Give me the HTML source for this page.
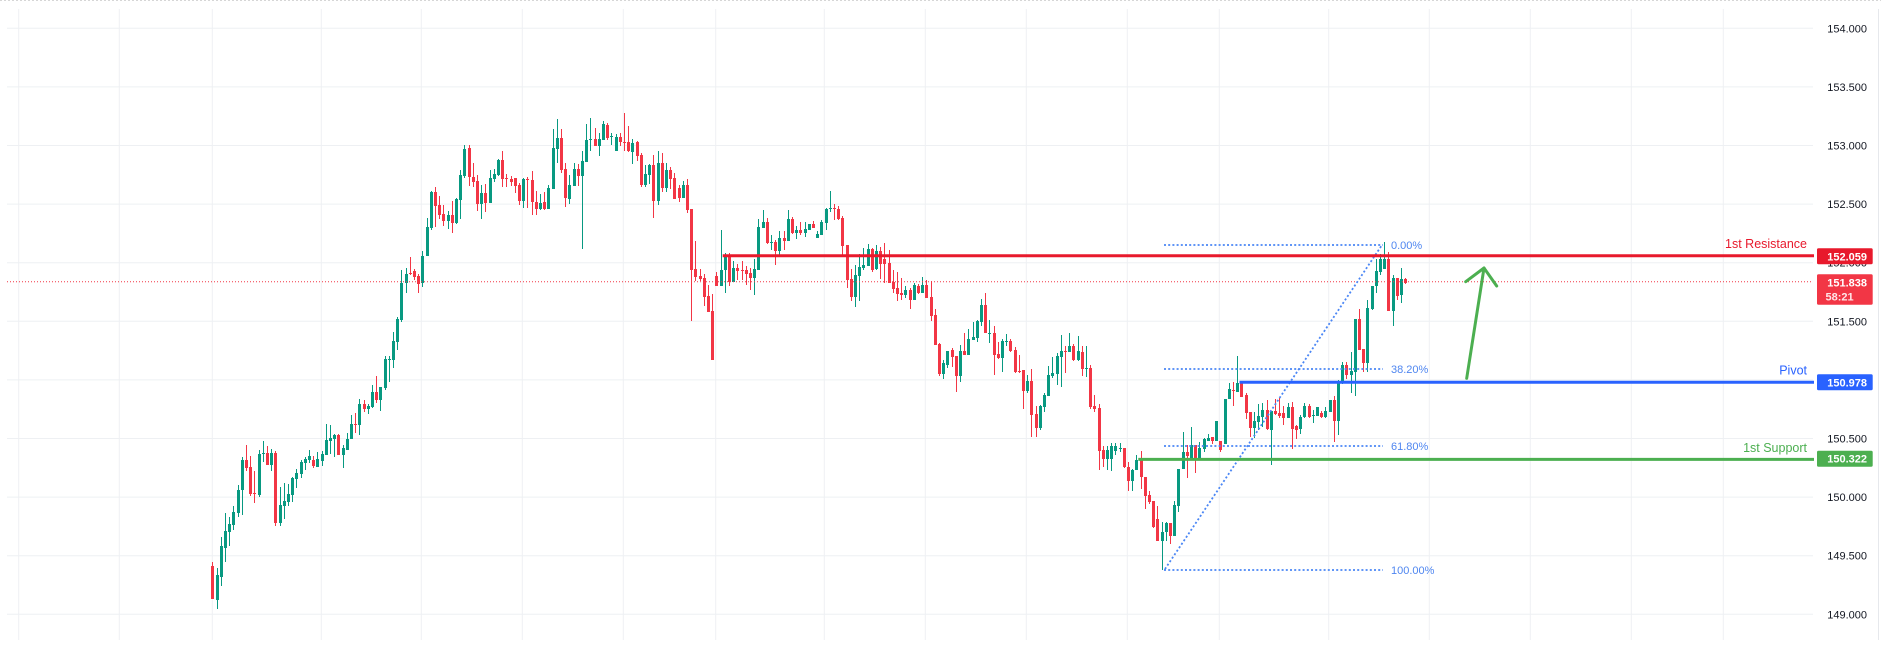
<!DOCTYPE html>
<html><head><meta charset="utf-8">
<style>
html,body{margin:0;padding:0;background:#fff;width:1881px;height:647px;overflow:hidden}
svg{display:block}
text{font-family:"Liberation Sans",Arial,sans-serif}
</style></head>
<body>
<svg id="s" width="1881" height="647" viewBox="0 0 1881 647" xmlns="http://www.w3.org/2000/svg">
<rect x="0" y="0" width="1881" height="647" fill="#ffffff"/>
<line x1="0" y1="0.5" x2="1881" y2="0.5" stroke="#d6d6d6" stroke-dasharray="2 2"/>
<g stroke="#eef0f3" stroke-width="1">
<line x1="18.7" y1="9" x2="18.7" y2="640"/>
<line x1="119.3" y1="9" x2="119.3" y2="640"/>
<line x1="212.3" y1="9" x2="212.3" y2="640"/>
<line x1="321.3" y1="9" x2="321.3" y2="640"/>
<line x1="421.3" y1="9" x2="421.3" y2="640"/>
<line x1="522.3" y1="9" x2="522.3" y2="640"/>
<line x1="623.3" y1="9" x2="623.3" y2="640"/>
<line x1="715.7" y1="9" x2="715.7" y2="640"/>
<line x1="824.3" y1="9" x2="824.3" y2="640"/>
<line x1="925.3" y1="9" x2="925.3" y2="640"/>
<line x1="1026.3" y1="9" x2="1026.3" y2="640"/>
<line x1="1127.3" y1="9" x2="1127.3" y2="640"/>
<line x1="1219.3" y1="9" x2="1219.3" y2="640"/>
<line x1="1328.7" y1="9" x2="1328.7" y2="640"/>
<line x1="1429.3" y1="9" x2="1429.3" y2="640"/>
<line x1="1530.3" y1="9" x2="1530.3" y2="640"/>
<line x1="1631.3" y1="9" x2="1631.3" y2="640"/>
<line x1="1723.3" y1="9" x2="1723.3" y2="640"/>
<line x1="7" y1="28.3" x2="1813" y2="28.3"/>
<line x1="7" y1="86.9" x2="1813" y2="86.9"/>
<line x1="7" y1="145.5" x2="1813" y2="145.5"/>
<line x1="7" y1="204.1" x2="1813" y2="204.1"/>
<line x1="7" y1="262.7" x2="1813" y2="262.7"/>
<line x1="7" y1="321.3" x2="1813" y2="321.3"/>
<line x1="7" y1="379.9" x2="1813" y2="379.9"/>
<line x1="7" y1="438.5" x2="1813" y2="438.5"/>
<line x1="7" y1="497.1" x2="1813" y2="497.1"/>
<line x1="7" y1="555.7" x2="1813" y2="555.7"/>
<line x1="7" y1="614.3" x2="1813" y2="614.3"/>
</g>
<line x1="1878.5" y1="9" x2="1878.5" y2="640" stroke="#e6e8ec"/>

<path id="gw" fill="#089981"/>
<path id="rw" fill="#f23645"/>
<path id="gb" fill="#089981"/>
<path id="rb" fill="#f23645"/>

<line x1="7" y1="281.7" x2="1813" y2="281.7" stroke="#f23645" stroke-width="1" stroke-dasharray="1 2"/>

<g stroke="#4a86f5" stroke-width="1.8" stroke-dasharray="2 2.2" fill="none">
<line x1="1164" y1="245" x2="1383" y2="245"/>
<line x1="1164" y1="369" x2="1383" y2="369"/>
<line x1="1164" y1="446" x2="1383" y2="446"/>
<line x1="1164" y1="570" x2="1383" y2="570"/>
<line x1="1165" y1="569" x2="1382" y2="245"/>
</g>
<g fill="#4f86f0" font-size="11">
<text x="1391" y="249">0.00%</text>
<text x="1391" y="373">38.20%</text>
<text x="1391" y="450">61.80%</text>
<text x="1391" y="574">100.00%</text>
</g>

<line x1="722.7" y1="255.8" x2="1814" y2="255.8" stroke="#e8192c" stroke-width="3"/>
<line x1="1239.5" y1="382.3" x2="1814" y2="382.3" stroke="#2962ff" stroke-width="3"/>
<line x1="1138.3" y1="459.4" x2="1814" y2="459.4" stroke="#4caf50" stroke-width="3"/>

<g stroke="#4caf50" stroke-width="3" fill="none" stroke-linecap="round" stroke-linejoin="round">
<line x1="1466.7" y1="378.3" x2="1484" y2="268"/>
<polyline points="1465.7,281.7 1484,268 1496.7,286"/>
</g>

<g font-size="12.5" text-anchor="end">
<text x="1807" y="247.8" fill="#e8192c">1st Resistance</text>
<text x="1807" y="374.5" fill="#2962ff">Pivot</text>
<text x="1807" y="451.8" fill="#4caf50">1st Support</text>
</g>

<g font-size="11" fill="#131722" text-anchor="end">
<text x="1867" y="32.3">154.000</text>
<text x="1867" y="90.9">153.500</text>
<text x="1867" y="149.5">153.000</text>
<text x="1867" y="208.1">152.500</text>
<text x="1867" y="266.7">152.000</text>
<text x="1867" y="325.3">151.500</text>
<text x="1867" y="383.9">151.000</text>
<text x="1867" y="442.5">150.500</text>
<text x="1867" y="501.1">150.000</text>
<text x="1867" y="559.7">149.500</text>
<text x="1867" y="618.3">149.000</text>
</g>
<rect x="1817" y="248.3" width="55.7" height="16" rx="1.5" fill="#e8192c"/>
<rect x="1817" y="274.3" width="55.7" height="30.4" rx="1.5" fill="#f23645"/>
<rect x="1817" y="374.3" width="55.7" height="16" rx="1.5" fill="#2962ff"/>
<rect x="1817" y="450.7" width="55.7" height="16" rx="1.5" fill="#4caf50"/>
<g font-size="11" fill="#ffffff" font-weight="bold" text-anchor="end">
<text x="1867" y="260.3">152.059</text>
<text x="1867" y="286.3">151.838</text>
<text x="1867" y="386.3">150.978</text>
<text x="1867" y="462.7">150.322</text>
</g>
<text x="1825.5" y="300.7" font-size="11" font-weight="bold" fill="#ffe6e8">58:21</text>
</svg>
<script>
var D=[
[0,566,599,562,599],[1,575,600,568,609],[1,546,577,537,586],[1,531,548,513,562],[1,524,532,517,546],
[1,512,525,506,530],[1,490,513,485,517],[1,460,490,457,515],[0,460,468,445,471],[0,467,494,456,496],
[0,493,494,471,503],[1,454,495,450,497],[1,453,454,441,462],[0,453,465,446,465],[1,453,465,449,471],
[0,453,523,451,526],[1,505,523,487,526],[1,501,506,483,519],[1,494,502,484,506],[1,478,495,477,502],
[1,473,479,469,488],[1,462,474,460,478],[1,459,463,457,470],[1,456,460,450,463],[0,460,466,456,468],
[1,459,467,452,467],[1,454,461,451,466],[1,440,455,424,455],[1,438,441,425,454],[1,435,439,434,457],
[0,435,455,434,455],[1,448,455,445,468],[1,439,450,433,450],[1,424,439,415,439],[0,424,425,413,433],
[1,404,425,399,435],[0,404,409,400,412],[1,406,409,404,414],[1,392,407,385,408],[0,392,400,376,403],
[1,387,400,387,411],[1,359,388,356,390],[1,359,360,356,382],[1,341,360,332,368],[1,319,342,317,350],
[1,283,320,270,322],[1,274,283,268,293],[0,273,274,257,275],[0,271,277,269,280],[0,276,284,274,293],
[1,256,283,251,287],[1,227,256,218,256],[1,192,228,191,230],[0,192,206,187,227],[0,205,215,196,219],
[0,214,221,205,226],[1,215,221,211,229],[0,215,223,201,233],[1,199,223,198,224],[1,175,200,170,219],
[1,149,176,145,178],[0,148,177,145,186],[0,177,182,163,187],[0,181,204,175,211],[1,193,204,185,219],
[0,193,203,184,212],[1,178,203,170,203],[1,174,179,169,182],[1,160,175,159,176],[0,160,179,151,187],
[0,178,179,174,187],[0,179,182,176,186],[0,178,186,178,193],[0,185,201,183,205],[1,179,201,178,208],
[0,179,180,177,208],[0,180,202,171,215],[0,202,209,191,215],[1,203,209,194,210],[0,202,209,192,210],
[1,188,209,185,209],[1,148,189,129,189],[1,138,149,119,163],[0,138,170,129,173],[0,169,198,163,207],
[1,185,199,175,204],[1,169,186,163,186],[0,169,176,164,186],[1,161,176,151,249],[1,140,162,124,162],
[1,139,140,118,151],[0,139,146,128,146],[1,139,146,133,156],[1,124,140,121,140],[0,125,138,123,140],
[1,136,137,133,145],[1,137,151,134,151],[0,137,142,133,146],[0,142,143,113,151],[0,142,151,126,152],
[1,143,152,139,164],[0,142,156,141,161],[0,155,185,153,187],[1,174,185,165,187],[1,165,175,164,184],
[0,165,201,155,218],[1,163,201,151,205],[0,163,188,153,192],[1,170,188,163,192],[0,170,179,167,189],
[0,178,199,173,199],[0,188,198,185,202],[1,185,198,181,198],[0,185,210,179,213],[0,209,270,209,321],
[0,269,277,241,281],[0,276,279,269,281],[0,278,297,274,306],[0,296,312,285,312],[0,311,360,294,360],
[0,276,286,272,286],[1,270,286,230,286],[1,255,270,253,293],[0,255,282,253,286],[1,268,282,261,282],
[0,268,271,264,280],[0,270,271,261,280],[0,270,274,266,285],[0,273,278,268,290],[1,269,278,259,295],
[1,227,270,219,270],[1,222,228,210,228],[0,222,243,218,244],[1,242,243,235,250],[0,242,251,240,265],
[1,238,251,231,257],[0,238,241,231,250],[1,219,241,210,241],[0,219,233,217,234],[1,230,233,226,239],
[0,230,233,222,235],[1,229,233,222,237],[1,224,230,224,230],[0,224,228,221,228],[1,234,238,231,238],
[1,222,235,220,235],[1,209,223,208,230],[1,208,209,191,212],[0,208,209,204,220],[0,209,219,206,220],
[0,218,246,216,257],[0,245,280,245,288],[0,279,297,269,301],[1,275,297,265,307],[1,267,276,254,301],
[1,265,268,248,270],[1,249,266,244,266],[0,249,270,248,272],[1,251,269,245,270],[0,251,264,247,279],
[0,259,264,243,283],[0,263,283,250,283],[0,282,289,270,293],[0,288,294,272,301],[0,293,295,278,300],
[1,290,295,286,298],[0,290,300,288,309],[1,285,300,283,300],[0,286,293,284,294],[1,285,293,277,293],
[0,285,298,280,298],[0,297,316,281,321],[0,315,345,309,345],[0,344,374,343,376],[1,363,374,360,379],
[1,351,365,351,368],[0,350,357,348,367],[0,356,376,356,392],[1,351,376,345,382],[0,351,355,333,355],
[1,339,355,329,355],[1,337,340,322,340],[1,321,338,320,342],[1,305,322,299,326],[0,305,333,293,333],
[1,333,334,320,343],[0,333,355,326,375],[0,354,358,342,359],[1,341,358,339,372],[1,341,342,334,346],
[0,341,351,339,352],[0,350,372,347,373],[0,371,372,355,373],[0,370,391,370,409],[1,381,391,375,393],
[0,381,415,369,437],[0,414,428,406,437],[1,406,428,405,430],[1,395,407,393,412],[1,375,396,366,396],
[1,373,376,357,378],[1,356,374,353,385],[1,351,357,335,387],[0,351,352,346,373],[1,346,352,333,352],
[0,346,360,344,361],[1,351,360,336,361],[0,352,369,346,376],[1,368,369,346,377],[0,368,407,365,409],
[0,406,409,395,412],[0,408,451,404,470],[0,450,459,446,467],[1,450,459,446,470],[1,446,459,443,471],
[1,446,451,443,455],[1,448,449,443,452],[0,448,467,448,468],[0,467,481,462,491],[1,470,481,469,491],
[1,460,470,455,470],[0,459,477,451,489],[0,477,496,477,509],[0,495,502,491,504],[0,501,527,501,528],
[0,519,541,506,541],[1,532,541,522,570],[1,523,532,522,541],[0,523,536,523,544],[1,505,536,501,536],
[1,469,506,469,512],[1,452,469,432,469],[0,452,456,445,478],[1,445,458,427,458],[0,445,459,445,473],
[1,448,459,442,459],[1,439,449,438,452],[1,438,441,434,441],[0,437,441,437,444],[1,421,441,421,441],
[0,441,450,441,452],[1,399,444,399,444],[1,389,399,383,399],[0,390,391,382,406],[1,383,392,356,392],
[0,381,397,381,397],[0,395,413,393,419],[0,412,428,412,437],[1,421,428,412,438],[1,416,422,404,430],
[1,410,417,403,427],[0,410,429,400,430],[1,411,430,411,465],[0,411,414,399,415],[0,413,416,398,418],
[0,413,418,406,425],[1,407,418,403,418],[0,407,429,402,449],[0,426,430,425,439],[1,417,429,415,434],
[1,406,417,403,418],[0,406,417,404,418],[1,415,416,410,423],[1,407,416,407,416],[0,413,417,411,418],
[1,411,417,407,418],[1,400,412,400,412],[0,400,421,396,442],[1,381,421,380,435],[1,365,381,362,384],
[0,365,375,362,379],[1,371,375,352,393],[1,319,372,319,396],[0,319,350,309,350],[0,349,363,349,372],
[1,308,363,300,372],[1,286,309,286,310],[1,271,286,259,293],[1,259,272,254,275],[1,259,269,242,269],
[0,259,311,252,311],[1,278,311,275,326],[0,278,296,278,300],[1,279,295,268,303],[0,279,283,278,284]
];
var gw='',rw='',gb='',rb='';
for(var i=0;i<D.length;i++){
  var d=D[i],cx=Math.round(212.3+4.2*i),bx=cx-1;
  var h=Math.max(d[2]-d[1],1);
  var w='M'+cx+' '+d[3]+'h1v'+Math.max(d[4]-d[3],1)+'h-1z';
  var b='M'+bx+' '+d[1]+'h3v'+h+'h-3z';
  if(d[0]){gw+=w;gb+=b;}else{rw+=w;rb+=b;}
}
document.getElementById('gw').setAttribute('d',gw);
document.getElementById('rw').setAttribute('d',rw);
document.getElementById('gb').setAttribute('d',gb);
document.getElementById('rb').setAttribute('d',rb);
</script>
</body></html>
